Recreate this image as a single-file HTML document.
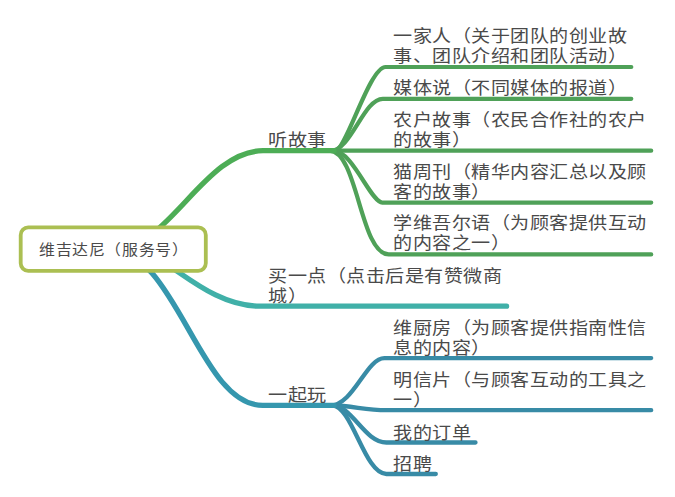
<!DOCTYPE html>
<html lang="zh-CN">
<head>
<meta charset="utf-8">
<style>
html,body{margin:0;padding:0;background:#ffffff;}
body{width:675px;height:497px;position:relative;overflow:hidden;font-family:"Liberation Sans",sans-serif;color:#4a4a4a;}
svg{position:absolute;left:0;top:0;}
.t{position:absolute;font-size:18px;line-height:21.15px;letter-spacing:0.4px;white-space:nowrap;transform:scale(1.06,0.96);transform-origin:0 50%;}
.r{position:absolute;font-size:15px;line-height:18px;letter-spacing:0.66px;white-space:nowrap;transform:scaleX(1.06);transform-origin:0 50%;}
</style>
</head>
<body>
<svg width="675" height="497" viewBox="0 0 675 497">
<g fill="none" stroke-linecap="round" stroke-linejoin="round">
<g stroke="#4fa158" stroke-width="4.2">
<path d="M332.3,150.7 H651.2"/>
<path d="M335.3,150.7 C346,150.7 369.3,67 385.6,67 H631.3"/>
<path d="M330.8,150.7 C351.1,150.7 363.6,98.8 382.8,98.8 H631.3"/>
<path d="M333.6,150.7 C352.3,150.7 371,202.6 382.3,202.6 H651.2"/>
<path d="M329.3,150.7 C357.9,150.7 360.1,254.4 388.7,254.4 H651.2"/>
</g>
<g stroke="#388ba6" stroke-width="4.3">
<path d="M329.9,405.5 C353.5,405.5 366.2,358.1 384.4,358.1 H651.2"/>
<path d="M332.3,405.5 C352.2,405.5 364.4,410.2 386.4,410.2 H651.2"/>
<path d="M332.3,405.5 C352.2,405.5 364.4,442.5 386.4,442.5 H475.5"/>
<path d="M332.3,405.5 C352.2,405.5 364.4,474 386.4,474 H435.8"/>
</g>
<path stroke="#4dad56" stroke-width="5.3" d="M117,248 C169,248 204.7,150.7 263.1,150.7 H334"/>
<path stroke="#40b0a8" stroke-width="5.3" d="M128.7,248 C162.7,248 203.1,306.2 259.9,306.2 H506.6"/>
<path stroke="#3597ae" stroke-width="5.3" d="M106.4,248 C177,248 198.7,405.4 262.7,405.4 H334"/>
</g>
<rect x="20.7" y="227.4" width="185.1" height="43.4" rx="7.5" ry="7.5" fill="#ffffff" stroke="#abbf52" stroke-width="3.8"/>
</svg>

<div class="r" style="left:38.5px;top:241px;">维吉达尼（服务号）</div>

<div class="t" style="left:267.5px;top:130px;">听故事</div>
<div class="t" style="left:267.5px;top:265.5px;">买一点（点击后是有赞微商<br>城）</div>
<div class="t" style="left:267.5px;top:385px;">一起玩</div>

<div class="t" style="left:392.5px;top:26px;">一家人（关于团队的创业故<br>事、团队介绍和团队活动）</div>
<div class="t" style="left:392.5px;top:78px;">媒体说（不同媒体的报道）</div>
<div class="t" style="left:392.5px;top:110px;">农户故事（农民合作社的农户<br>的故事）</div>
<div class="t" style="left:392.5px;top:162px;">猫周刊（精华内容汇总以及顾<br>客的故事）</div>
<div class="t" style="left:392.5px;top:213.3px;">学维吾尔语（为顾客提供互动<br>的内容之一）</div>

<div class="t" style="left:392.5px;top:318px;">维厨房（为顾客提供指南性信<br>息的内容）</div>
<div class="t" style="left:392.5px;top:370.3px;">明信片（与顾客互动的工具之<br>一）</div>
<div class="t" style="left:392.5px;top:422.7px;">我的订单</div>
<div class="t" style="left:392.5px;top:454px;">招聘</div>
</body>
</html>
